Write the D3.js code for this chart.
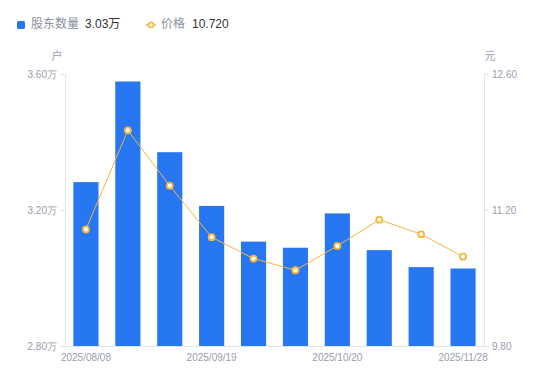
<!DOCTYPE html>
<html>
<head>
<meta charset="utf-8">
<script src="https://cdn.jsdelivr.net/npm/d3@7"></script>
<style>
  body { margin: 0; background: #fff; }
  svg { display: block; font-family: "Liberation Sans", "Noto Sans CJK SC", sans-serif; }
</style>
</head>
<body>
<div id="chart"></div>
<script>
// data
const dates = ['2025/08/08', '2025/08/22', '2025/08/29', '2025/09/19', '2025/09/30',
               '2025/10/10', '2025/10/20', '2025/10/31', '2025/11/14', '2025/11/28']
const holders = [3.282, 3.578, 3.370, 3.212, 3.107, 3.089, 3.190, 3.082, 3.032, 3.028]
const prices = [11.00, 12.02, 11.45, 10.92, 10.70, 10.58, 10.83, 11.10, 10.95, 10.72]
const holderTicks = [2.8, 3.2, 3.6]
const priceTicks = [9.8, 11.2, 12.6]
const dateTicks = ['2025/08/08', '2025/09/19', '2025/10/20', '2025/11/28']

const width = 550, height = 381
const margin = { top: 74, right: 66, bottom: 35, left: 65 }

const barColor = '#2777f3'
const lineColor = '#f7b53c'
const labelColor = '#9a9cae'
const axisColor = '#e3e4ea'

const svg = d3.select('#chart').append('svg')
  .attr('width', width)
  .attr('height', height)

const x = d3.scaleBand()
  .domain(dates)
  .range([margin.left, width - margin.right])
  .paddingInner(0.4)
  .paddingOuter(0.2)

const yLeft = d3.scaleLinear()
  .domain([2.8, 3.6])
  .range([height - margin.bottom, margin.top])

const yRight = d3.scaleLinear()
  .domain([9.8, 12.6])
  .range([height - margin.bottom, margin.top])

const styleAxis = g => {
  g.select('.domain').attr('stroke', axisColor)
  g.selectAll('.tick line').attr('stroke', axisColor)
  g.selectAll('.tick text').attr('fill', labelColor).attr('font-size', 10)
}

// left axis
svg.append('g')
  .attr('transform', `translate(${margin.left},0)`)
  .call(d3.axisLeft(yLeft)
    .tickValues(holderTicks)
    .tickFormat(d => d.toFixed(2) + '万')
    .tickSizeInner(5)
    .tickSizeOuter(0)
    .tickPadding(3))
  .call(styleAxis)

// right axis
svg.append('g')
  .attr('transform', `translate(${width - margin.right},0)`)
  .call(d3.axisRight(yRight)
    .tickValues(priceTicks)
    .tickFormat(d => d.toFixed(2))
    .tickSizeInner(5)
    .tickSizeOuter(0)
    .tickPadding(3))
  .call(styleAxis)

// bottom axis
svg.append('g')
  .attr('transform', `translate(0,${height - margin.bottom})`)
  .call(d3.axisBottom(x)
    .tickValues(dateTicks)
    .tickSize(0)
    .tickPadding(8))
  .call(styleAxis)

// axis names
svg.append('text')
  .attr('x', margin.left - 8)
  .attr('y', margin.top - 17)
  .attr('text-anchor', 'middle')
  .attr('dominant-baseline', 'middle')
  .attr('font-size', 11)
  .attr('fill', labelColor)
  .text('户')

svg.append('text')
  .attr('x', width - margin.right + 6)
  .attr('y', margin.top - 17)
  .attr('text-anchor', 'middle')
  .attr('dominant-baseline', 'middle')
  .attr('font-size', 11)
  .attr('fill', labelColor)
  .text('元')

// bars
svg.append('g')
  .selectAll('rect')
  .data(holders)
  .join('rect')
  .attr('x', (d, i) => x(dates[i]))
  .attr('width', x.bandwidth())
  .attr('y', d => yLeft(d))
  .attr('height', d => yLeft(2.8) - yLeft(d))
  .attr('fill', barColor)

// price line
const line = d3.line()
  .x((d, i) => x(dates[i]) + x.bandwidth() / 2)
  .y(d => yRight(d))

svg.append('path')
  .datum(prices)
  .attr('d', line)
  .attr('fill', 'none')
  .attr('stroke', lineColor)
  .attr('stroke-width', 1)

svg.append('g')
  .selectAll('circle')
  .data(prices)
  .join('circle')
  .attr('cx', (d, i) => x(dates[i]) + x.bandwidth() / 2)
  .attr('cy', d => yRight(d))
  .attr('r', 3)
  .attr('fill', '#fff')
  .attr('stroke', lineColor)
  .attr('stroke-width', 1.8)

// legend
const legend = svg.append('g').attr('font-size', 12)

legend.append('rect')
  .attr('x', 17).attr('y', 21)
  .attr('width', 8).attr('height', 8)
  .attr('rx', 1.5)
  .attr('fill', barColor)
legend.append('text')
  .attr('x', 31).attr('y', 25)
  .attr('dominant-baseline', 'middle')
  .attr('fill', '#8d8fa0')
  .text('股东数量')
legend.append('text')
  .attr('x', 85).attr('y', 25)
  .attr('dominant-baseline', 'middle')
  .attr('fill', '#333')
  .text(holders[holders.length - 1].toFixed(2) + '万')

legend.append('line')
  .attr('x1', 146).attr('x2', 156)
  .attr('y1', 25).attr('y2', 25)
  .attr('stroke', lineColor)
  .attr('stroke-width', 1.5)
legend.append('circle')
  .attr('cx', 151).attr('cy', 25)
  .attr('r', 2.5)
  .attr('fill', '#fff')
  .attr('stroke', lineColor)
  .attr('stroke-width', 1.5)
legend.append('text')
  .attr('x', 161).attr('y', 25)
  .attr('dominant-baseline', 'middle')
  .attr('fill', '#8d8fa0')
  .text('价格')
legend.append('text')
  .attr('x', 192).attr('y', 25)
  .attr('dominant-baseline', 'middle')
  .attr('fill', '#333')
  .text(prices[prices.length - 1].toFixed(3))
</script>
</body>
</html>
